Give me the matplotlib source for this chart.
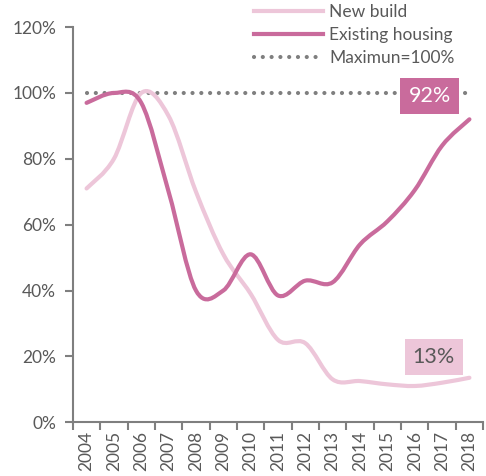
import numpy as np
import matplotlib
matplotlib.use("Agg")
import matplotlib.pyplot as plt
from matplotlib.path import Path
from matplotlib.patches import PathPatch
from matplotlib.lines import Line2D

years = ["2004", "2005", "2006", "2007", "2008", "2009", "2010", "2011",
         "2012", "2013", "2014", "2015", "2016", "2017", "2018"]
new_build = [71, 80, 100, 93, 70, 51, 39, 25, 24, 13, 12.5, 11.5, 11, 12, 13.5]
existing = [97, 100, 97, 70, 40, 40, 51, 38.5, 43, 42.5, 54, 61, 70.5, 84, 92]
maximum = 100
end_labels = ["92%", "13%"]

c_new = "#edc6d9"
c_old = "#c96b9c"
grey = "#7f7f7f"
txt = "#595959"
dots = (0, (0.01, 2.1))

plt.rcParams['font.family'] = ['Lato', 'DejaVu Sans']


def smooth_path(x, y):
    # excel-style smoothed line: cubic bezier through every point
    pts = np.column_stack([x, y]).astype(float)
    verts = [pts[0]]
    codes = [Path.MOVETO]
    n = len(pts)
    for i in range(n - 1):
        p0 = pts[i - 1] if i > 0 else pts[i]
        p1 = pts[i]
        p2 = pts[i + 1]
        p3 = pts[i + 2] if i + 2 < n else pts[i + 1]
        c1 = p1 + (p2 - p0) / 6
        c2 = p2 - (p3 - p1) / 6
        verts += [c1, c2, p2]
        codes += [Path.CURVE4] * 3
    return Path(verts, codes)


fig = plt.figure(figsize=(4.86, 4.76), dpi=100)
ax = fig.add_axes([0.150, 0.113, 0.844, 0.830])

x = np.arange(len(years))
ax.plot(x, [maximum] * len(x), color=grey, lw=3, ls=dots,
        dash_capstyle="round", zorder=1)
ax.add_patch(PathPatch(smooth_path(x, new_build), fc="none", ec=c_new, lw=3,
                       capstyle="round", zorder=2))
ax.add_patch(PathPatch(smooth_path(x, existing), fc="none", ec=c_old, lw=3,
                       capstyle="round", zorder=3))

ax.set_xlim(-0.5, len(years) - 0.5)
ax.set_ylim(0, 120)
ax.set_yticks(range(0, 121, 20))
ax.set_yticklabels([f"{v}%" for v in range(0, 121, 20)])
ax.set_xticks(np.arange(-0.5, len(years), 1))
ax.set_xticklabels([])
ax.set_xticks(x, minor=True)
ax.set_xticklabels(years, minor=True, rotation=90)
ax.tick_params(axis="x", which="minor", length=0, pad=6)
ax.tick_params(axis="x", which="major", length=6, width=1.5, color=grey)
ax.tick_params(axis="y", length=6, width=1.5, color=grey, pad=6)
ax.tick_params(which="both", labelsize=12.5, labelcolor=txt)
for s in ["top", "right"]:
    ax.spines[s].set_visible(False)
for s in ["left", "bottom"]:
    ax.spines[s].set_color(grey)
    ax.spines[s].set_linewidth(1.5)

ax.text(x[-1] - 1.45, 99, end_labels[0], color="white", fontsize=15.5,
        ha="center", va="center",
        bbox=dict(boxstyle="square,pad=0.38", fc=c_old, ec="none"),
        zorder=5)
ax.text(x[-1] - 1.3, 19.8, end_labels[1], color=txt, fontsize=15.5,
        ha="center", va="center",
        bbox=dict(boxstyle="square,pad=0.38", fc=c_new, ec="none"))

handles = [Line2D([], [], color=c_new, lw=3),
           Line2D([], [], color=c_old, lw=3),
           Line2D([], [], color=grey, lw=3, ls=dots, dash_capstyle="round")]
leg = fig.legend(handles, ["New build", "Existing housing", "Maximun=100%"],
                 loc="upper left", bbox_to_anchor=(0.49, 1.025), frameon=False,
                 fontsize=12.5, labelcolor=txt, handlelength=4.0,
                 handletextpad=0.35, labelspacing=0.4)

fig.savefig("out.png", dpi=100)
